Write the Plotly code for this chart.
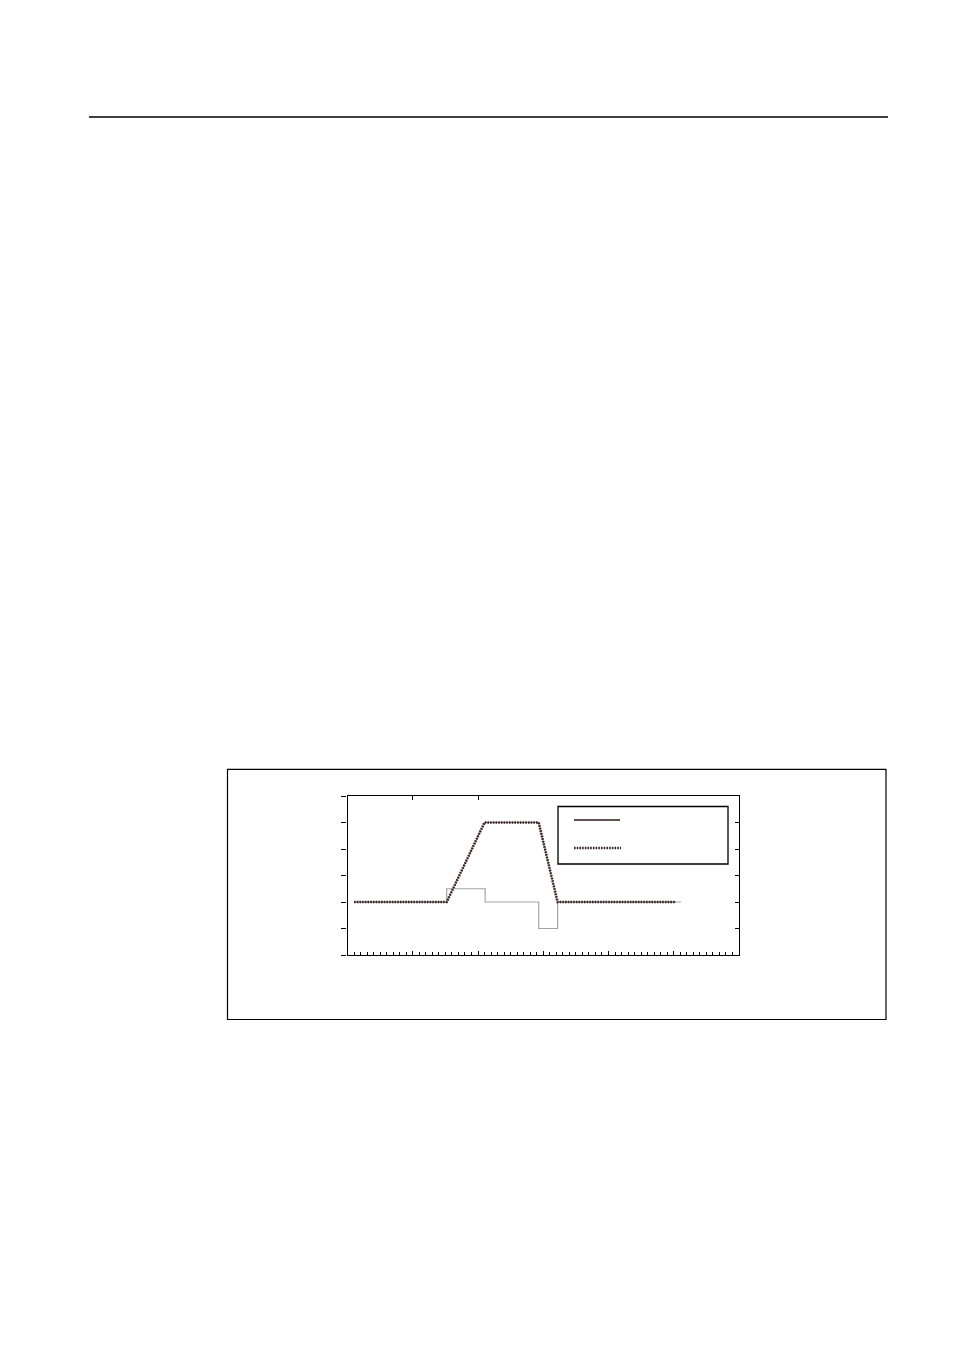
import plotly.graph_objects as go

# ---- data ----
ramp_x = [1, 15.2, 21.0, 29.3, 32.2, 50.3]
ramp_y = [2, 2, 5, 5, 2, 2]

step_x = [1, 15.2, 21.1, 29.3, 32.2, 51.1]
step_y = [2, 2.5, 2, 1, 2, 2]

x_range = [0, 60]
y_range = [0, 6]
top_tickvals = [10, 20]

W, H = 954, 1350
OFF = 8  # default page margin around the plot

def px(x):
    return (x - OFF) / W

def py(y):
    return 1 - (y - OFF) / H

fig = go.Figure()

fig.add_trace(go.Scatter(
    x=step_x, y=step_y, mode="lines", line_shape="hv",
    line=dict(color="#a4a4a4", width=1.2), name="step", showlegend=False,
))
fig.add_trace(go.Scatter(
    x=ramp_x, y=ramp_y, mode="lines",
    line=dict(color="#6a5a5a", width=0.8), name="solid", showlegend=False,
))
fig.add_trace(go.Scatter(
    x=ramp_x, y=ramp_y, mode="lines",
    line=dict(color="#3a2424", width=2.6, dash="1.6px,1.1px"), name="dotted", showlegend=False,
))

axis_common = dict(showgrid=False, zeroline=False, showline=True, linecolor="black",
                   linewidth=1.3, mirror=False, tickcolor="black", tickwidth=1.1)

xd = [px(347.5), px(739)]
yd = [py(955), py(796)]

fig.update_layout(
    width=W, height=H,
    margin=dict(l=0, r=0, t=0, b=0),
    paper_bgcolor="white", plot_bgcolor="white",
    showlegend=False,
    xaxis=dict(domain=xd, range=x_range, dtick=10, ticks="inside", ticklen=4,
               showticklabels=False,
               minor=dict(dtick=1, ticks="inside", ticklen=2.5, tickcolor="black", tickwidth=1),
               **axis_common),
    yaxis=dict(domain=yd, range=y_range, dtick=1, ticks="outside", ticklen=5,
               showticklabels=False, **axis_common),
    xaxis2=dict(overlaying="x", side="top", range=x_range, tickmode="array",
                tickvals=top_tickvals, ticks="inside", ticklen=4, showticklabels=False,
                **axis_common),
    yaxis2=dict(overlaying="y", side="right", range=y_range, dtick=1, ticks="inside",
                ticklen=4, showticklabels=False, anchor="x", **axis_common),
)

# invisible trace to activate the overlay axes
fig.add_trace(go.Scatter(x=[None], y=[None], xaxis="x2", yaxis="y2", showlegend=False))

shapes = [
    # header rule
    dict(type="line", xref="paper", yref="paper", x0=px(89), x1=px(888), y0=py(117), y1=py(117),
         line=dict(color="black", width=1.5)),
    # outer frame
    dict(type="rect", xref="paper", yref="paper", x0=px(227.5), x1=px(886), y0=py(1019.5), y1=py(769.3),
         line=dict(color="black", width=1.2)),
    # legend box
    dict(type="rect", xref="paper", yref="paper", x0=px(558), x1=px(728), y0=py(864), y1=py(806.5),
         line=dict(color="black", width=1.3), fillcolor="white", layer="above"),
    # legend samples
    dict(type="line", xref="paper", yref="paper", x0=px(574), x1=px(620), y0=py(820), y1=py(820),
         line=dict(color="#2a1a1a", width=1.4), layer="above"),
    dict(type="line", xref="paper", yref="paper", x0=px(574), x1=px(621), y0=py(848), y1=py(848),
         line=dict(color="#3a2424", width=2.6, dash="1.6px,1.1px"), layer="above"),
]
fig.update_layout(shapes=shapes)

fig.write_html("out.html")
